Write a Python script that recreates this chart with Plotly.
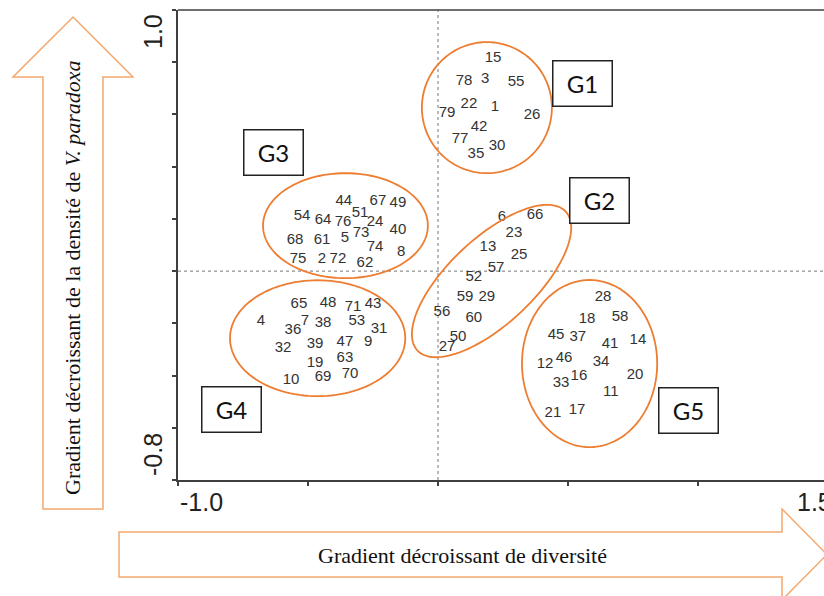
import numpy as np
import plotly.graph_objects as go

# ---------------- data (site scores) ----------------
g1_labels = ["15", "78", "3", "55", "79", "22", "1", "26", "42", "77", "30", "35"]
g1_x = [0.212, 0.100, 0.181, 0.300, 0.035, 0.119, 0.219, 0.362, 0.158, 0.085, 0.227, 0.146]
g1_y = [0.816, 0.728, 0.735, 0.724, 0.605, 0.640, 0.628, 0.597, 0.552, 0.506, 0.479, 0.448]

g2_labels = ["6", "66", "23", "13", "25", "57", "52", "59", "29", "56", "60", "50", "27"]
g2_x = [0.246, 0.373, 0.292, 0.192, 0.312, 0.223, 0.138, 0.104, 0.188, 0.015, 0.138, 0.077, 0.035]
g2_y = [0.207, 0.214, 0.146, 0.092, 0.061, 0.011, -0.023, -0.100, -0.100, -0.157, -0.180, -0.253, -0.291]

g3_labels = ["44", "67", "49", "54", "64", "76", "51", "24", "40", "68", "61", "5", "73",
             "74", "8", "75", "2", "72", "62"]
g3_x = [-0.362, -0.231, -0.154, -0.523, -0.442, -0.365, -0.300, -0.242, -0.154, -0.550,
        -0.446, -0.358, -0.296, -0.242, -0.142, -0.538, -0.446, -0.385, -0.281]
g3_y = [0.268, 0.268, 0.260, 0.211, 0.195, 0.188, 0.222, 0.188, 0.157, 0.119,
        0.119, 0.126, 0.146, 0.092, 0.073, 0.046, 0.046, 0.046, 0.031]

g4_labels = ["4", "65", "48", "71", "43", "36", "7", "38", "53", "31", "32", "39", "47",
             "9", "19", "63", "10", "69", "70"]
g4_x = [-0.681, -0.535, -0.423, -0.327, -0.250, -0.558, -0.512, -0.442, -0.312, -0.227,
        -0.596, -0.473, -0.358, -0.269, -0.473, -0.358, -0.565, -0.442, -0.338]
g4_y = [-0.191, -0.126, -0.123, -0.138, -0.126, -0.226, -0.191, -0.199, -0.191, -0.222,
        -0.295, -0.280, -0.272, -0.272, -0.352, -0.333, -0.417, -0.406, -0.394]

g5_labels = ["28", "18", "58", "45", "37", "41", "14", "12", "46", "34", "33", "16",
             "20", "11", "21", "17"]
g5_x = [0.635, 0.573, 0.700, 0.454, 0.538, 0.662, 0.769, 0.412, 0.485, 0.627, 0.473,
        0.542, 0.758, 0.665, 0.442, 0.535]
g5_y = [-0.100, -0.184, -0.176, -0.245, -0.253, -0.280, -0.264, -0.356, -0.333, -0.349,
        -0.429, -0.402, -0.398, -0.463, -0.544, -0.532]

# group names, box centres, ellipse (cx, cy, a, b, angle in degrees)
group_names = ["G1", "G2", "G3", "G4", "G5"]
box_x = [0.554, 0.621, -0.633, -0.794, 0.963]
box_y = [0.718, 0.270, 0.454, -0.529, -0.534]
ell_cx = [0.188, 0.206, -0.356, -0.463, 0.583]
ell_cy = [0.626, -0.038, 0.174, -0.257, -0.354]
ell_a = [0.250, 0.390, 0.317, 0.337, 0.260]
ell_b = [0.251, 0.164, 0.201, 0.222, 0.320]
ell_ang = [0, 43, 0, 0, 0]

# axes
x_min, x_max = -1.0, 1.4846
y_min, y_max = -0.8, 1.0
x_tick_vals = [-1.0, -0.5, 0.0, 0.5, 1.0]
x_label_vals = [-1.0, 1.5]
x_label_text = ["-1.0", "1.5"]
y_label_vals = [1.0, -0.8]
y_label_text = ["1.0", "-0.8"]

y_title = "Gradient décroissant de la densité de <i>V. paradoxa</i>"
x_title = "Gradient décroissant de diversité"

# ---------------- figure ----------------
W, H = 824, 596
ML, MR, MT, MB = 178, 0, 10, 116
PW, PH = W - ML - MR, H - MT - MB


def pp(px, py):
    """pixel -> paper coordinates"""
    return (px - ML) / PW, (H - MB - py) / PH


ORANGE = "#ED7D31"
ARROW = "#F4A86E"
AXC = "#404040"

fig = go.Figure()

groups = [(g1_labels, g1_x, g1_y), (g2_labels, g2_x, g2_y), (g3_labels, g3_x, g3_y),
          (g4_labels, g4_x, g4_y), (g5_labels, g5_x, g5_y)]
for name, (lab, gx, gy) in zip(group_names, groups):
    fig.add_trace(go.Scatter(
        x=gx, y=gy, text=lab, mode="text", name=name,
        textposition="middle center",
        textfont=dict(family="Liberation Sans, Arial, sans-serif", size=15, color="#333333"),
        cliponaxis=False, showlegend=False, hoverinfo="text"))

shapes = []
# dotted reference lines
shapes.append(dict(type="line", xref="x", yref="paper", x0=0, x1=0, y0=0, y1=1,
                   line=dict(color="#777777", width=1, dash="dot"), layer="below"))
shapes.append(dict(type="line", xref="paper", yref="y", x0=0, x1=1, y0=0, y1=0,
                   line=dict(color="#777777", width=1, dash="dot"), layer="below"))
# top frame line
shapes.append(dict(type="line", xref="paper", yref="paper", x0=0, x1=1, y0=1, y1=1,
                   line=dict(color=AXC, width=1.5)))

# ellipses
t = np.linspace(0, 2 * np.pi, 121)
for cx, cy, a, b, ang in zip(ell_cx, ell_cy, ell_a, ell_b, ell_ang):
    th = np.deg2rad(ang)
    ex = cx + a * np.cos(t) * np.cos(th) - b * np.sin(t) * np.sin(th)
    ey = cy + a * np.cos(t) * np.sin(th) + b * np.sin(t) * np.cos(th)
    path = "M " + " L ".join(f"{u:.4f},{v:.4f}" for u, v in zip(ex, ey)) + " Z"
    shapes.append(dict(type="path", xref="x", yref="y", path=path,
                       line=dict(color=ORANGE, width=1.8)))

# block arrows (decoration, pixel geometry)
up_arrow = [(43, 509), (43, 77), (13, 77), (73, 17), (133, 77), (103, 77), (103, 509)]
right_arrow = [(119, 532), (782, 532), (782, 509), (827, 554.5), (782, 600), (782, 577), (119, 577)]
for poly in (up_arrow, right_arrow):
    pts = [pp(px, py) for px, py in poly]
    path = "M " + " L ".join(f"{u:.4f},{v:.4f}" for u, v in pts) + " Z"
    shapes.append(dict(type="path", xref="paper", yref="paper", path=path,
                       line=dict(color=ARROW, width=1.5), fillcolor="rgba(255,255,255,0)"))

annotations = []
# group boxes
for name, bx, by in zip(group_names, box_x, box_y):
    annotations.append(dict(x=bx, y=by, xref="x", yref="y", text=name, showarrow=False,
                            font=dict(family="Lato, Noto Sans, sans-serif", size=24, color="#111111"),
                            bordercolor="#222222", borderwidth=1.5, borderpad=0,
                            bgcolor="white", width=58, height=44,
                            xanchor="center", yanchor="middle"))

# axis end labels
tick_font = dict(family="Liberation Sans, Arial, sans-serif", size=25, color="#222222")
for v, txt in zip(y_label_vals, y_label_text):
    yp = (v - y_min) / (y_max - y_min)
    annotations.append(dict(x=0, y=yp, xref="paper", yref="paper", text=txt, showarrow=False,
                            textangle=-90, font=tick_font, xanchor="center", yanchor="middle",
                            xshift=-25, yshift=(-22 if v == y_max else 25)))
for v, txt in zip(x_label_vals, x_label_text):
    xp = (v - x_min) / (x_max - x_min)
    annotations.append(dict(x=xp, y=0, xref="paper", yref="paper", text=txt, showarrow=False,
                            font=tick_font, xanchor="left", yanchor="middle",
                            xshift=(0 if v == x_min else -33), yshift=-22))

# arrow texts
lx, ly = pp(73, 278)
annotations.append(dict(x=lx, y=ly, xref="paper", yref="paper", text=y_title, showarrow=False,
                        textangle=-90, xanchor="center", yanchor="middle",
                        font=dict(family="Liberation Serif, Times New Roman, serif", size=22, color="#111111")))
bx_, by_ = pp(462, 555)
annotations.append(dict(x=bx_, y=by_, xref="paper", yref="paper", text=x_title, showarrow=False,
                        xanchor="center", yanchor="middle",
                        font=dict(family="Liberation Serif, Times New Roman, serif", size=22, color="#111111")))

fig.update_layout(
    width=W, height=H,
    margin=dict(l=ML, r=MR, t=MT, b=MB, pad=0),
    paper_bgcolor="white", plot_bgcolor="white",
    showlegend=False,
    shapes=shapes, annotations=annotations,
    xaxis=dict(range=[x_min, x_max], showgrid=False, zeroline=False, showline=True,
               linecolor=AXC, linewidth=1.5, ticks="outside", ticklen=4, tickwidth=1.5,
               tickcolor=AXC, tickvals=x_tick_vals, showticklabels=False, fixedrange=True),
    yaxis=dict(range=[y_min, y_max], showgrid=False, zeroline=False, showline=True,
               linecolor=AXC, linewidth=1.5, ticks="outside", ticklen=4, tickwidth=1.5,
               tickcolor=AXC, tick0=-0.8, dtick=0.2, showticklabels=False, fixedrange=True),
)

fig.write_html("out.html",
               config={"displayModeBar": False},
               post_script="document.body.style.margin='0px';document.body.style.overflow='hidden';")
